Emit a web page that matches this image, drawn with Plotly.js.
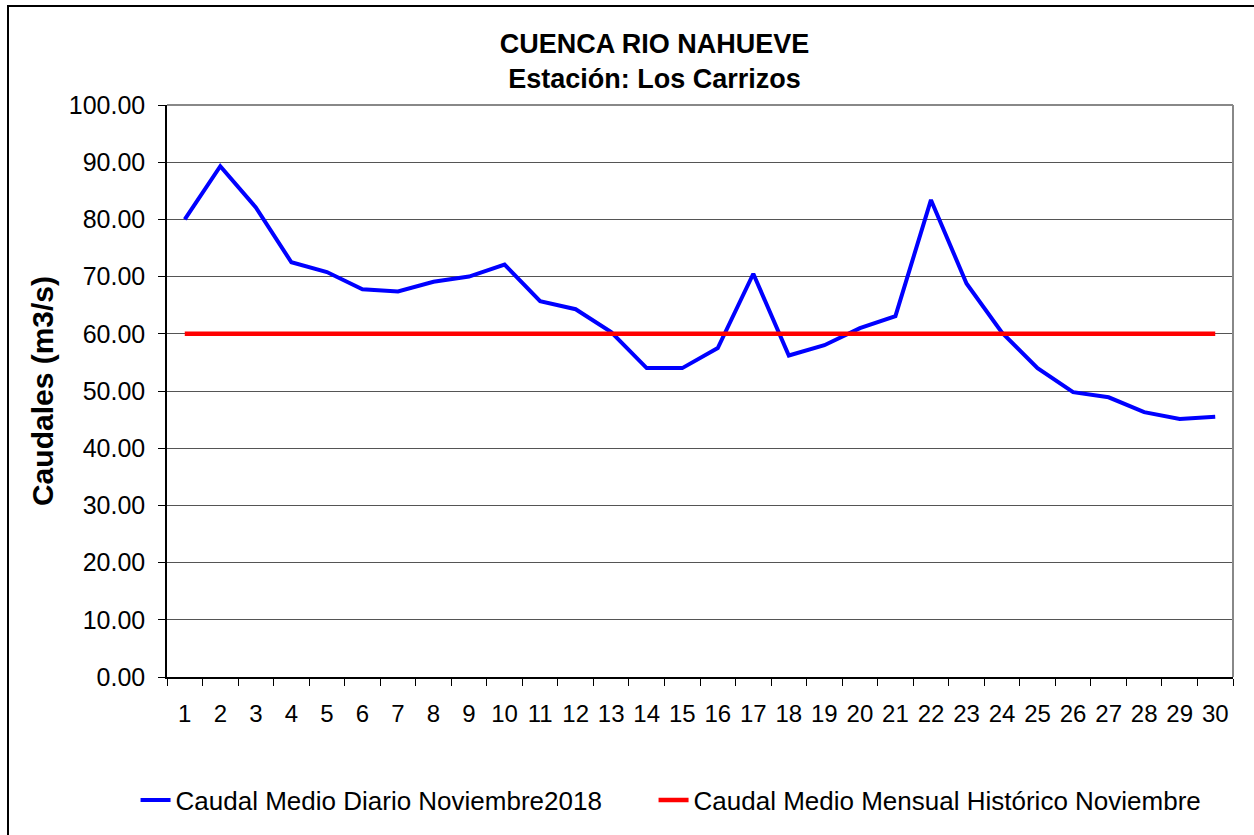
<!DOCTYPE html>
<html>
<head>
<meta charset="utf-8">
<script src="https://cdn.plot.ly/plotly-3.0.1.min.js"></script>
<style>
  html, body { margin: 0; padding: 0; background: #fff; }
  #frame { position: absolute; left: 7px; top: 5px; width: 1260px; height: 840px; border-left: 2px solid #000; border-top: 2px solid #000; box-sizing: border-box; pointer-events: none; z-index: 5; }
  #chart { position: absolute; left: 0; top: 0; width: 1254px; height: 835px; }
</style>
</head>
<body>
<div id="chart"></div>
<div id="frame"></div>
<script>
const days = ["1","2","3","4","5","6","7","8","9","10","11","12","13","14","15","16","17","18","19","20","21","22","23","24","25","26","27","28","29","30"];
const caudalDiario = [80.0, 89.3, 82.1, 72.5, 70.8, 67.8, 67.4, 69.1, 70.0, 72.1, 65.7, 64.3, 60.3, 54.0, 54.0, 57.5, 70.5, 56.2, 58.0, 61.0, 63.1, 83.4, 68.8, 60.2, 54.0, 49.8, 48.9, 46.3, 45.1, 45.5];
const caudalHistorico = [60.0, 60.0, 60.0, 60.0, 60.0, 60.0, 60.0, 60.0, 60.0, 60.0, 60.0, 60.0, 60.0, 60.0, 60.0, 60.0, 60.0, 60.0, 60.0, 60.0, 60.0, 60.0, 60.0, 60.0, 60.0, 60.0, 60.0, 60.0, 60.0, 60.0];
const seriesNames = ["Caudal Medio Diario Noviembre2018", "Caudal Medio Mensual Histórico Noviembre"];
const yTicks = [0, 10, 20, 30, 40, 50, 60, 70, 80, 90, 100];

const FONT = "Liberation Sans, Arial, sans-serif";

const traces = [
  { x: days, y: caudalDiario, type: "scatter", mode: "lines", name: seriesNames[0],
    line: { color: "#0000FF", width: 4 }, hoverinfo: "x+y", legendwidth: 473 },
  { x: days, y: caudalHistorico, type: "scatter", mode: "lines", name: seriesNames[1],
    line: { color: "#FF0000", width: 4.5 }, hoverinfo: "x+y", legendwidth: 530 }
];

const layout = {
  width: 1254, height: 835,
  paper_bgcolor: "#fff", plot_bgcolor: "#fff",
  margin: { l: 167, r: 21, t: 105, b: 158, pad: 0 },
  font: { family: FONT, color: "#000", size: 22 },
  title: {
    text: "<b>CUENCA RIO NAHUEVE</b><br><b>Estación: Los Carrizos</b>",
    font: { family: FONT, size: 27, color: "#000" },
    x: 0.522, xref: "container", xanchor: "center",
    y: 0.937, yref: "container", yanchor: "middle"
  },
  xaxis: {
    type: "category",
    range: [-0.5, 29.5],
    tickson: "boundaries",
    tickangle: 0,
    ticks: "outside", ticklen: 7, tickcolor: "#000", tickwidth: 1,
    showline: true, linecolor: "#000", linewidth: 1.5,
    showgrid: false, zeroline: false,
    tickfont: { family: FONT, size: 24, color: "#000" },
    ticklabelstandoff: 14,
    fixedrange: true
  },
  yaxis: {
    range: [0, 100],
    tickvals: yTicks,
    tickformat: ".2f",
    ticks: "outside", ticklen: 7, tickcolor: "#000", tickwidth: 1,
    showline: true, linecolor: "#000", linewidth: 1.5,
    showgrid: true, gridcolor: "#555", gridwidth: 1,
    zeroline: false,
    tickfont: { family: FONT, size: 25, color: "#000" },
    ticklabelstandoff: 8,
    title: { text: "<b>Caudales (m3/s)</b>", font: { family: FONT, size: 30, color: "#000" }, standoff: 6 },
    fixedrange: true
  },
  shapes: [
    { type: "line", xref: "paper", yref: "paper", x0: 0, x1: 1, y0: 1, y1: 1, line: { color: "#888", width: 2 } },
    { type: "line", xref: "paper", yref: "paper", x0: 1, x1: 1, y0: 0, y1: 1, line: { color: "#888", width: 2 } }
  ],
  showlegend: true,
  legend: {
    orientation: "h",
    x: -0.0295, xanchor: "left",
    y: -0.215, yanchor: "middle",
    font: { family: FONT, size: 26, color: "#000" },
    bgcolor: "rgba(0,0,0,0)",
    itemwidth: 30,
    traceorder: "normal"
  }
};

Plotly.newPlot("chart", traces, layout, { displayModeBar: false, staticPlot: false });
</script>
</body>
</html>
